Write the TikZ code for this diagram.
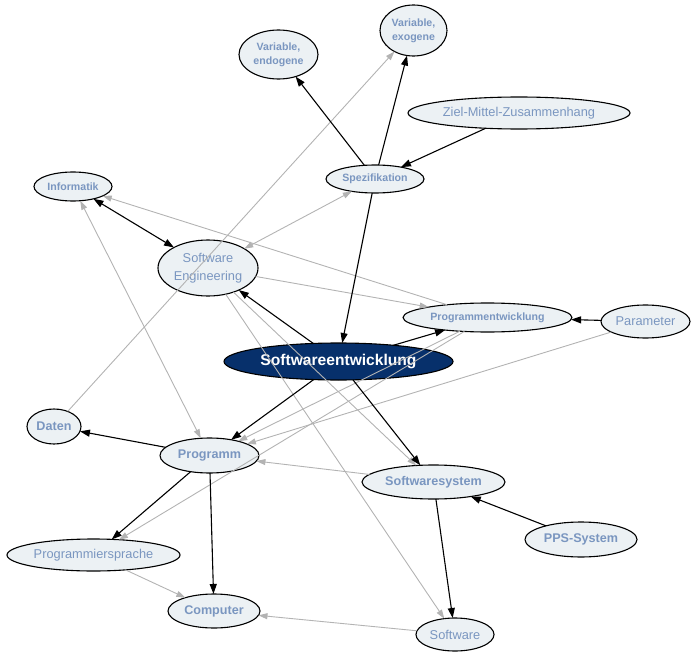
\documentclass[tikz,border=0pt]{standalone}
\usepackage{fontspec}
\setmainfont{Liberation Sans}
\usetikzlibrary{shapes.geometric,arrows.meta}
\definecolor{nodefill}{HTML}{ECF1F4}
\definecolor{txtc}{HTML}{7A96C0}
\definecolor{darkfill}{HTML}{07306B}
\definecolor{edgegray}{HTML}{B3B3B3}
\tikzset{
  nd/.style={ellipse, draw=black, line width=1.1pt, fill=nodefill, text=txtc, inner sep=0pt, outer sep=0pt, align=center},
  nrm/.style={font=\fontsize{12.8}{18}\selectfont},
  bsm/.style={font=\bfseries\fontsize{10.6}{14}\selectfont},
  bbg/.style={font=\bfseries\fontsize{12.6}{17}\selectfont},
  blk/.style={draw=black, line width=1.1pt, -{Triangle[length=10pt,width=7pt]}},
  blkboth/.style={draw=black, line width=1.1pt, {Triangle[length=10pt,width=7pt]}-{Triangle[length=10pt,width=7pt]}},
  gry/.style={draw=edgegray, line width=0.9pt, -{Triangle[length=9pt,width=6pt]}},
  gryboth/.style={draw=edgegray, line width=0.9pt, {Triangle[length=9pt,width=6pt]}-{Triangle[length=9pt,width=6pt]}},
}
\begin{document}
\begin{tikzpicture}[x=1pt,y=-1pt]
\useasboundingbox (0,0) rectangle (696,658);
% nodes
\node[nd,bsm,minimum width=79pt,minimum height=49pt] (vend) at (278.5,54.5) {Variable,\\endogene};
\node[nd,bsm,minimum width=67pt,minimum height=51pt] (vexo) at (413.5,30.5) {Variable,\\exogene};
\node[nd,nrm,minimum width=222pt,minimum height=32pt] (ziel) at (519,113) {Ziel-Mittel-Zusammenhang};
\node[nd,bsm,minimum width=98pt,minimum height=28pt] (spez) at (375,179) {Spezifikation};
\node[nd,bsm,minimum width=78pt,minimum height=29pt] (info) at (73,186.5) {Informatik};
\node[nd,nrm,minimum width=100pt,minimum height=56pt] (se) at (208,268) {Software\\Engineering};
\node[nd,bsm,minimum width=169pt,minimum height=29pt] (pe) at (487.5,317.5) {Programmentwicklung};
\node[nd,nrm,minimum width=89pt,minimum height=33pt] (param) at (645.5,321.5) {Parameter};
\node[nd,fill=darkfill,text=white,font=\bfseries\fontsize{15.6}{18}\selectfont,minimum width=229pt,minimum height=37pt] (swe) at (338.5,361.5) {Softwareentwicklung};
\node[nd,bbg,minimum width=54pt,minimum height=35pt] (daten) at (54,426.5) {Daten};
\node[nd,bbg,minimum width=99pt,minimum height=35pt] (prog) at (209.5,455.5) {Programm};
\node[nd,bbg,minimum width=143pt,minimum height=34pt] (sws) at (433.5,482) {Softwaresystem};
\node[nd,bbg,minimum width=112pt,minimum height=35pt] (pps) at (581,539.5) {PPS-System};
\node[nd,nrm,minimum width=173pt,minimum height=32pt] (psp) at (93.5,555) {Programmiersprache};
\node[nd,bbg,minimum width=92pt,minimum height=34pt] (comp) at (214,611) {Computer};
\node[nd,nrm,minimum width=78pt,minimum height=33pt] (soft) at (455,634.5) {Software};
% gray edges
\draw[gry] (daten) -- (vexo);
\draw[gryboth] (se) -- (spez);
\draw[gry] (pe) -- (info);
\draw[gry] (se) -- (pe);
\draw[gryboth] (prog) -- (info);
\draw[gry] (se) -- (sws);
\draw[gry] (se) -- (soft);
\draw[gry] (pe) -- (prog);
\draw[gry] (pe) -- (psp);
\draw[gry] (param) -- (prog);
\draw[gry] (sws) -- (prog);
\draw[gry] (psp) -- (comp);
\draw[gry] (soft) -- (comp);
% black edges
\draw[blk] (spez) -- (vend);
\draw[blk] (spez) -- (vexo);
\draw[blk] (ziel) -- (spez);
\draw[blk] (spez) -- (swe);
\draw[blkboth] (info) -- (se);
\draw[blk] (swe) -- (se);
\draw[blk] (swe) -- (pe);
\draw[blk] (param) -- (pe);
\draw[blk] (swe) -- (prog);
\draw[blk] (swe) -- (sws);
\draw[blk] (prog) -- (daten);
\draw[blk] (prog) -- (psp);
\draw[blk] (prog) -- (comp);
\draw[blk] (pps) -- (sws);
\draw[blk] (sws) -- (soft);
\end{tikzpicture}
\end{document}
